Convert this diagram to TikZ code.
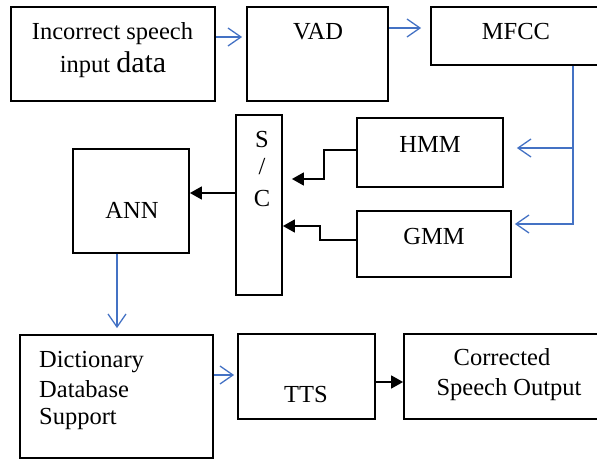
\documentclass[tikz,border=0pt]{standalone}
\usepackage{fontspec}
\setmainfont{Liberation Serif}
\usetikzlibrary{arrows.meta}
\definecolor{arrblue}{RGB}{68,114,196}
\begin{document}
\begin{tikzpicture}[x=1pt,y=-1pt,
  box/.style={draw=black, line width=1.8pt, rectangle, inner sep=0pt},
  lbl/.style={anchor=base, inner sep=0pt, font=\fontsize{24.5}{29}\selectfont},
  lbll/.style={lbl, anchor=base west},
  bluearr/.style={draw=arrblue, line width=1.3pt, -{Straight Barb[length=13pt,width=18pt]}},
  blkarr/.style={draw=black, line width=1.6pt, -{Triangle[length=12pt,width=13pt]}}]
\useasboundingbox (0,0) rectangle (597,460);
% boxes
\node[box, minimum width=204pt, minimum height=94pt] (in) at (113,54) {};
\node[box, minimum width=141pt, minimum height=94pt] (vad) at (317.5,54) {};
\node[box, minimum width=168pt, minimum height=58pt] (mfcc) at (515,36) {};
\node[box, minimum width=146pt, minimum height=69pt] (hmm) at (430,152.5) {};
\node[box, minimum width=154pt, minimum height=66pt] (gmm) at (434,244) {};
\node[box, minimum width=46pt, minimum height=180pt] (sc) at (259,205) {};
\node[box, minimum width=116pt, minimum height=104pt] (ann) at (131,201) {};
\node[box, minimum width=193pt, minimum height=123pt] (dict) at (116.5,396.5) {};
\node[box, minimum width=137pt, minimum height=85pt] (tts) at (306.5,376.5) {};
\node[box, minimum width=195pt, minimum height=85pt] (cor) at (501.5,376.5) {};
% texts
\node[lbl] (tin1) at (112.5,40) {Incorrect speech};
\node[lbl] (tin2) at (113,73) {input {\fontsize{30}{30}\selectfont data}};
\node[lbl] (tvad) at (318,40) {VAD};
\node[lbl] (tmfcc) at (516,40) {MFCC};
\node[lbl] (thmm) at (430,152) {HMM};
\node[lbl] (tgmm) at (434,244) {GMM};
\node[lbl] (ts) at (262,147) {S};
\node[lbl] (tsl) at (262,174) {/};
\node[lbl] (tc) at (262,206) {C};
\node[lbl] (tann) at (132,218) {ANN};
\node[lbl] (ttts) at (306,402) {TTS};
\node[lbl] (tcor1) at (502,365) {Corrected};
\node[lbl] (tcor2) at (509,395) {Speech Output};
\node[lbll] (td1) at (39,367) {Dictionary};
\node[lbll] (td2) at (39,397) {Database};
\node[lbll] (td3) at (39,424) {Support};
% connectors
\draw[bluearr, shorten >=4pt] (in.east |- 0,37) -- (vad.west |- 0,37);
\draw[bluearr, shorten >=9pt] (vad.east |- 0,28) -- (mfcc.west |- 0,28);
\draw[bluearr, shorten >=13pt] (mfcc.south -| 573,0) |- (hmm.east |- 0,148);
\draw[bluearr, shorten >=3pt] (mfcc.south -| 573,0) |- (gmm.east |- 0,224);
\draw[blkarr, shorten >=9pt] (hmm.west |- 0,150) -| (324,179) -- (sc.east |- 0,179);
\draw[blkarr] (gmm.west |- 0,240) -| (320,226) -- (sc.east |- 0,226);
\draw[blkarr] (sc.west |- 0,193) -- (ann.east |- 0,193);
\draw[bluearr, shorten >=6pt] (ann.south -| 117,0) -- (dict.north -| 117,0);
\draw[bluearr, shorten >=3pt] (dict.east |- 0,375) -- (tts.west |- 0,375);
\draw[blkarr] (tts.east |- 0,382) -- (cor.west |- 0,382);
\end{tikzpicture}
\end{document}
